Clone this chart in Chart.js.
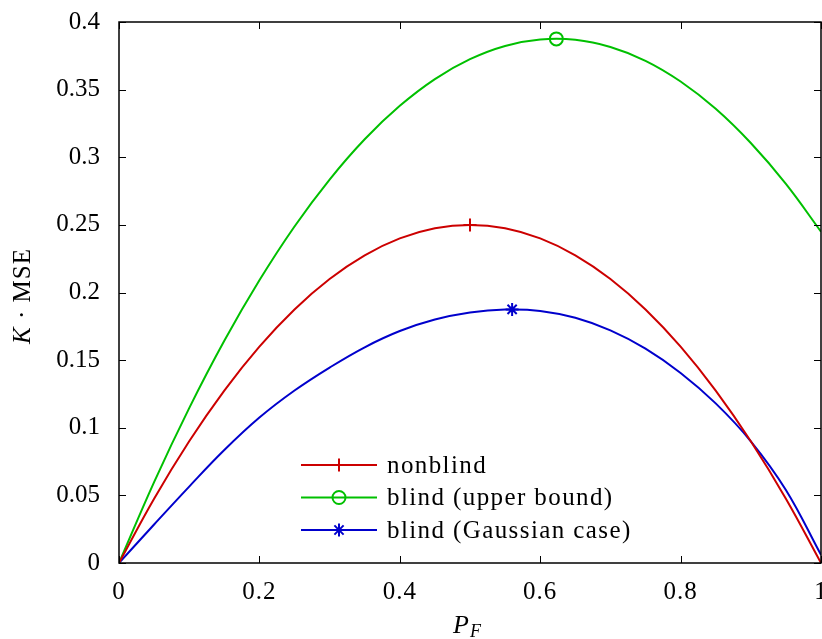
<!DOCTYPE html>
<html>
<head>
<meta charset="utf-8">
<script src="https://cdn.jsdelivr.net/npm/chart.js@4.4.1/dist/chart.umd.min.js"></script>
<style>
html, body { margin: 0; padding: 0; background: #fff; }
</style>
</head>
<body>
<canvas id="grafico" width="822" height="639"></canvas>
<script>
// valores
const pF = [0, 0.05, 0.1, 0.15, 0.2, 0.25, 0.3, 0.35, 0.4, 0.45, 0.5,
            0.55, 0.6, 0.65, 0.7, 0.75, 0.8, 0.85, 0.9, 0.95, 1];
const nonblind = [0, 0.0475, 0.09, 0.1275, 0.16, 0.1875, 0.21, 0.2275, 0.24, 0.2475, 0.25,
                  0.2475, 0.24, 0.2275, 0.21, 0.1875, 0.16, 0.1275, 0.09, 0.0475, 0];
const blindUpper = [0, 0.0598, 0.1145, 0.1643, 0.209, 0.2488, 0.2835, 0.3133, 0.338, 0.3578, 0.3725,
                    0.3823, 0.387, 0.3868, 0.3815, 0.3713, 0.356, 0.3358, 0.3105, 0.2803, 0.245];
const blindGauss = [0, 0.0285, 0.0565, 0.0835, 0.1075, 0.1275, 0.1445, 0.1595, 0.1715, 0.18, 0.1852,
                    0.1874, 0.1864, 0.1813, 0.172, 0.1585, 0.1405, 0.118, 0.09, 0.054, 0.006];

const peakX = [0.5, 0.623, 0.56];
const peakY = [0.25, 0.3875, 0.1875];

const seriesNames = ['nonblind', 'blind (upper bound)', 'blind (Gaussian case)'];
const seriesColors = ['#cc0000', '#00c000', '#0000cc'];
const seriesMarkers = ['cross', 'circle', 'star'];

const xTicks = [0, 0.2, 0.4, 0.6, 0.8, 1];
const yTicks = [0, 0.05, 0.1, 0.15, 0.2, 0.25, 0.3, 0.35, 0.4];

const FUENTE = '"Liberation Serif", "Times New Roman", serif';
const TAM = 25;

const etiqueta = v => String(+v.toFixed(2));

const curvas = [nonblind, blindUpper, blindGauss];

const datasets = [];
curvas.forEach((serie, i) => {
    datasets.push({
        label: seriesNames[i],
        data: pF.map((x, j) => ({ x: x, y: serie[j] })),
        borderColor: seriesColors[i],
        borderWidth: 2,
        pointRadius: 0,
        tension: 0.4,
        fill: false
    });
});
curvas.forEach((serie, i) => {
    datasets.push({
        label: seriesNames[i] + ' max',
        data: [{ x: peakX[i], y: peakY[i] }],
        showLine: false,
        pointStyle: seriesMarkers[i],
        pointRadius: 6.5,
        pointBorderWidth: 2,
        pointBorderColor: seriesColors[i],
        pointBackgroundColor: 'rgba(0,0,0,0)'
    });
});

const dibujarMarca = (ctx, tipo, x, y) => {
    Chart.helpers.drawPoint(ctx, {
        pointStyle: tipo, radius: 6.5, borderWidth: 2, rotation: 0
    }, x, y);
};

const marco = {
    id: 'marco',
    beforeInit(chart) {
        chart.ctx.letterSpacing = '1px';
    },
    afterDraw(chart) {
        const ctx = chart.ctx;
        const a = chart.chartArea;
        const sx = chart.scales.x, sy = chart.scales.y;
        ctx.save();
        ctx.strokeStyle = '#000';
        ctx.lineWidth = 1.5;
        ctx.strokeRect(a.left, a.top, a.right - a.left, a.bottom - a.top);

        // marcas hacia dentro en los cuatro lados
        ctx.lineWidth = 1;
        const L = 7;
        ctx.beginPath();
        xTicks.forEach(v => {
            const px = Math.round(sx.getPixelForValue(v)) + 0.5;
            ctx.moveTo(px, a.bottom); ctx.lineTo(px, a.bottom - L);
            ctx.moveTo(px, a.top); ctx.lineTo(px, a.top + L);
        });
        yTicks.forEach(v => {
            const py = Math.round(sy.getPixelForValue(v)) + 0.5;
            ctx.moveTo(a.left, py); ctx.lineTo(a.left + L, py);
            ctx.moveTo(a.right, py); ctx.lineTo(a.right - L, py);
        });
        ctx.stroke();

        // etiquetas del eje x
        ctx.fillStyle = '#000';
        ctx.letterSpacing = '1px';
        ctx.font = TAM + 'px ' + FUENTE;
        ctx.textAlign = 'center';
        ctx.textBaseline = 'middle';
        xTicks.forEach(v => {
            ctx.fillText(etiqueta(v), sx.getPixelForValue(v), 592);
        });

        // leyenda
        const filas = [465, 497.5, 530];
        ctx.textAlign = 'left';
        ctx.letterSpacing = '1.4px';
        seriesNames.forEach((nombre, i) => {
            const y = filas[i];
            ctx.strokeStyle = seriesColors[i];
            ctx.fillStyle = 'rgba(0,0,0,0)';
            ctx.lineWidth = 2;
            ctx.beginPath();
            ctx.moveTo(301, y); ctx.lineTo(377, y);
            ctx.stroke();
            dibujarMarca(ctx, seriesMarkers[i], 339, y);
            ctx.fillStyle = '#000';
            ctx.fillText(nombre, 387, y + 1);
        });

        // título eje x: P_F
        ctx.letterSpacing = '0px';
        ctx.textBaseline = 'alphabetic';
        ctx.font = 'italic 26px ' + FUENTE;
        ctx.fillText('P', 453, 633);
        ctx.font = 'italic 18px ' + FUENTE;
        ctx.fillText('F', 470, 637);

        // título eje y: K · MSE
        ctx.letterSpacing = '1px';
        ctx.translate(30, 296);
        ctx.rotate(-Math.PI / 2);
        ctx.font = 'italic ' + TAM + 'px ' + FUENTE;
        const wK = ctx.measureText('K').width;
        ctx.font = TAM + 'px ' + FUENTE;
        const resto = ' \u00b7 MSE';
        const wR = ctx.measureText(resto).width;
        const x0 = -(wK + wR) / 2;
        ctx.font = 'italic ' + TAM + 'px ' + FUENTE;
        ctx.fillText('K', x0, 0);
        ctx.font = TAM + 'px ' + FUENTE;
        ctx.fillText(resto, x0 + wK, 0);
        ctx.restore();
    }
};

new Chart(document.getElementById('grafico').getContext('2d'), {
    type: 'line',
    data: { datasets: datasets },
    options: {
        responsive: false,
        animation: false,
        devicePixelRatio: 1,
        layout: { autoPadding: false, padding: { top: 22, right: 1, left: 0, bottom: 0 } },
        plugins: {
            legend: { display: false },
            tooltip: { enabled: false }
        },
        scales: {
            x: {
                type: 'linear',
                min: 0, max: 1,
                afterBuildTicks: s => { s.ticks = xTicks.map(v => ({ value: v })); },
                afterFit: s => { s.height = 76; },
                grid: { display: false },
                border: { display: false },
                ticks: { display: false }
            },
            y: {
                min: 0, max: 0.4,
                afterBuildTicks: s => { s.ticks = yTicks.map(v => ({ value: v })); },
                afterFit: s => { s.width = 119; s.paddingTop = 0; s.paddingBottom = 0; },
                grid: { display: false },
                border: { display: false },
                ticks: {
                    color: '#000',
                    padding: 11,
                    font: { family: FUENTE, size: TAM },
                    callback: etiqueta
                }
            }
        }
    },
    plugins: [marco]
});
</script>
</body>
</html>
